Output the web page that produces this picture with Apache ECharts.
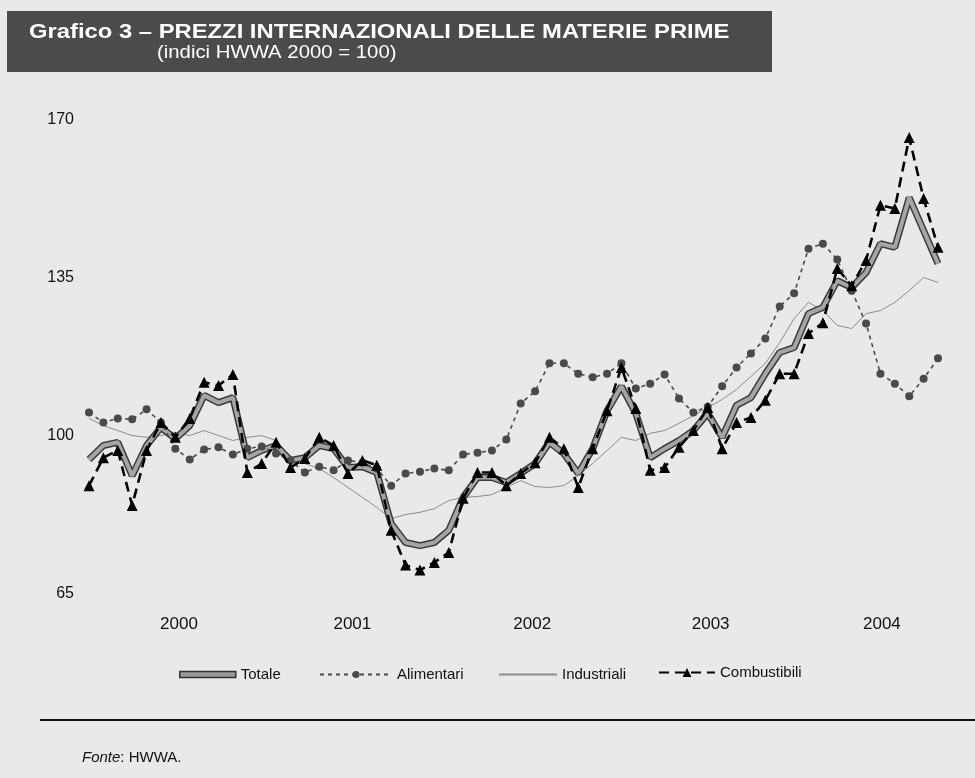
<!DOCTYPE html>
<html>
<head>
<meta charset="utf-8">
<title>Grafico 3 - Prezzi internazionali delle materie prime</title>
<script src="https://cdn.jsdelivr.net/npm/echarts@6/dist/echarts.min.js"></script>
<style>
  html, body { margin: 0; padding: 0; background: #e9e9e9; }
  #chart { width: 975px; height: 778px; }
</style>
</head>
<body>
<div id="chart"></div>
<script>
// indici HWWA 2000 = 100, dati mensili gen 2000 - dic 2004
var years = ['2000', '2001', '2002', '2003', '2004'];
var yearLabelAt = [6.25, 18.3, 30.8, 43.2, 55.1]; // posizione (in mesi) delle etichette anno
var yTicks = [65, 100, 135, 170];

var totale = [
  94.8, 97.9, 98.6, 91.2, 97.9, 101.9, 99.4, 102.3, 109.0, 107.4, 108.5, 95.2,
  96.8, 97.9, 94.6, 95.2, 97.9, 97.2, 93.0, 93.2, 91.9, 80.6, 76.4, 75.7,
  76.4, 79.1, 86.4, 90.8, 90.8, 89.7, 91.7, 93.9, 98.6, 96.1, 91.7, 97.2,
  105.6, 111.0, 105.0, 95.2, 97.2, 99.0, 101.2, 105.0, 99.7, 106.8, 108.5, 113.8,
  118.5, 119.6, 127.1, 128.5, 134.4, 132.9, 136.2, 142.6, 141.8, 152.8, 145.5, 138.2
];
var alimentari = [
  105.2, 103.0, 103.9, 103.7, 105.9, 103.0, 97.2, 94.8, 97.0, 97.5, 95.9, 97.2,
  97.7, 96.1, 94.6, 91.9, 93.2, 92.4, 94.6, 94.1, 92.8, 89.0, 91.7, 92.1,
  92.8, 92.4, 95.9, 96.3, 96.8, 99.2, 107.2, 109.9, 116.1, 116.1, 113.8, 113.0,
  113.8, 116.1, 110.5, 111.6, 113.6, 108.3, 105.2, 106.5, 111.0, 115.2, 118.3, 121.6,
  128.7, 131.6, 141.5, 142.6, 139.1, 132.2, 124.9, 113.8, 111.6, 108.8, 112.7, 117.2
];
var industriali = [
  103.9, 102.3, 101.2, 100.1, 99.7, 100.1, 100.8, 100.1, 101.2, 100.1, 99.0, 99.7,
  100.1, 99.0, 95.2, 93.9, 92.8, 90.8, 88.6, 86.4, 84.2, 81.7, 82.6, 83.1,
  83.9, 85.7, 86.4, 86.6, 87.0, 88.6, 90.1, 88.8, 88.6, 89.0, 91.2, 93.9,
  96.8, 99.7, 99.0, 100.6, 101.2, 102.8, 104.5, 106.3, 108.1, 110.3, 113.2, 116.1,
  120.7, 126.0, 129.6, 127.8, 124.5, 123.8, 127.1, 127.8, 129.6, 132.2, 135.1, 134.0
];
var combustibili = [
  89.0, 95.2, 96.8, 84.6, 96.8, 103.0, 99.7, 103.9, 111.9, 111.2, 113.6, 91.9,
  93.9, 98.6, 93.0, 95.0, 99.7, 97.9, 91.7, 94.6, 93.5, 79.1, 71.4, 70.3,
  72.0, 74.2, 86.2, 91.9, 91.9, 89.0, 91.7, 94.1, 99.7, 97.2, 88.6, 97.2,
  105.6, 115.2, 106.1, 92.4, 93.0, 97.5, 101.2, 106.3, 97.2, 103.0, 104.1, 107.9,
  113.8, 113.8, 122.7, 125.1, 137.1, 133.3, 138.9, 151.1, 150.4, 166.1, 152.6, 141.8
];

function pairs(arr) {
  return arr.map(function (v, i) { return [i, v]; });
}

var FONT = '"Liberation Sans", Arial, Helvetica, sans-serif';

var chart = echarts.init(document.getElementById('chart'));

var option = {
  backgroundColor: '#e9e9e9',
  animation: false,
  textStyle: { fontFamily: FONT, color: '#111' },
  grid: {
    left: 89,
    right: 37,
    top: 120,
    bottom: 184
  },
  xAxis: {
    type: 'value',
    min: 0,
    max: totale.length - 1,
    axisLine: { show: false },
    axisTick: { show: false },
    splitLine: { show: false },
    axisLabel: {
      customValues: yearLabelAt,
      margin: 22,
      fontSize: 17,
      color: '#111',
      fontFamily: FONT,
      formatter: function (v) {
        for (var k = 0; k < yearLabelAt.length; k++) {
          if (Math.abs(yearLabelAt[k] - v) < 0.01) return years[k];
        }
        return '';
      }
    }
  },
  yAxis: {
    type: 'value',
    min: 65,
    max: 170,
    axisLine: { show: false },
    axisTick: { show: false },
    splitLine: { show: false },
    axisLabel: {
      customValues: yTicks,
      margin: 15,
      fontSize: 16,
      color: '#111',
      fontFamily: FONT
    }
  },
  legend: [
    {
      data: [{ name: 'Totale', icon: 'rect', itemStyle: { color: '#9a9a9a', borderColor: '#333', borderWidth: 1.5 } }],
      left: 174, top: 662, itemWidth: 56, itemHeight: 6,
      textStyle: { fontSize: 15, color: '#111', fontFamily: FONT }
    },
    {
      data: ['Alimentari'],
      left: 314, top: 662, itemWidth: 72, itemHeight: 9,
      textStyle: { fontSize: 15, color: '#111', fontFamily: FONT }
    },
    {
      data: [{ name: 'Industriali', itemStyle: { opacity: 0 } }],
      left: 493, top: 662, itemWidth: 58, itemHeight: 6,
      textStyle: { fontSize: 15, color: '#111', fontFamily: FONT }
    },
    {
      data: ['Combustibili'],
      left: 653, top: 660, itemWidth: 56, itemHeight: 11,
      textStyle: { fontSize: 15, color: '#111', fontFamily: FONT }
    }
  ],
  series: [
    {
      name: 'Industriali',
      type: 'line',
      data: pairs(industriali),
      symbol: 'none',
      z: 1,
      lineStyle: { color: '#8c8c8c', width: 1 },
      itemStyle: { color: '#8c8c8c' }
    },
    {
      name: 'Totale (bordo)',
      type: 'line',
      data: pairs(totale),
      symbol: 'none',
      z: 2,
      silent: true,
      lineStyle: { color: '#3a3a3a', width: 7 },
      itemStyle: { color: '#3a3a3a' }
    },
    {
      name: 'Totale',
      type: 'line',
      data: pairs(totale),
      symbol: 'none',
      z: 3,
      lineStyle: { color: '#a5a5a5', width: 4 },
      itemStyle: { color: '#a5a5a5' }
    },
    {
      name: 'Alimentari',
      type: 'line',
      data: pairs(alimentari),
      symbol: 'circle',
      symbolSize: 8,
      z: 4,
      lineStyle: { color: '#4a4a4a', width: 1.6, type: [4, 4] },
      itemStyle: { color: '#4a4a4a' }
    },
    {
      name: 'Combustibili',
      type: 'line',
      data: pairs(combustibili),
      symbol: 'triangle',
      symbolSize: 11,
      z: 5,
      lineStyle: { color: '#000', width: 2.6, type: [10, 6] },
      itemStyle: { color: '#000' }
    }
  ],
  graphic: [
    {
      type: 'rect',
      shape: { x: 7, y: 11, width: 765, height: 61 },
      style: { fill: '#4b4b4b' },
      z: 0
    },
    {
      type: 'text',
      x: 29, y: 32,
      scaleX: 1.19,
      style: {
        text: 'Grafico 3 \u2013 PREZZI INTERNAZIONALI DELLE MATERIE PRIME',
        fill: '#fff',
        font: 'bold 20px ' + FONT,
        verticalAlign: 'middle'
      },
      z: 1
    },
    {
      type: 'text',
      x: 157, y: 53,
      scaleX: 1.13,
      style: {
        text: '(indici HWWA 2000 = 100)',
        fill: '#fff',
        font: '18px ' + FONT,
        verticalAlign: 'middle'
      },
      z: 1
    },
    {
      type: 'line',
      shape: { x1: 40, y1: 720, x2: 975, y2: 720 },
      style: { stroke: '#111', lineWidth: 2 }
    },
    {
      type: 'text',
      x: 82, y: 758,
      style: {
        text: '{i|Fonte}: HWWA.',
        fill: '#111',
        font: '15px ' + FONT,
        verticalAlign: 'middle',
        rich: {
          i: { fontStyle: 'italic', fontSize: 15, fontFamily: FONT, fill: '#111' }
        }
      }
    }
  ]
};

chart.setOption(option);
</script>
</body>
</html>
